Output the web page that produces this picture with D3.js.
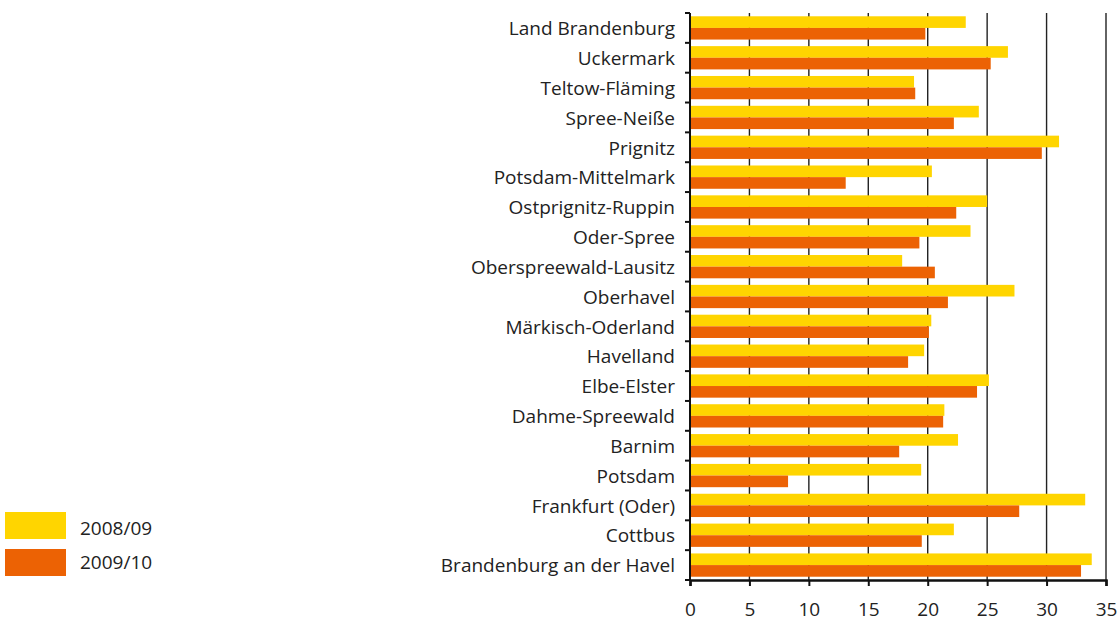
<!DOCTYPE html>
<html>
<head>
<meta charset="utf-8">
<script src="https://cdn.jsdelivr.net/npm/d3@7"></script>
<style>
  body { margin: 0; background: #fff; }
  svg text { font-family: "Open Sans", "Noto Sans", sans-serif; fill: #222; }
</style>
</head>
<body>
<svg width="1117" height="621"></svg>
<script>
var svg = d3.select('svg');

// categories top to bottom
var districts = ['Land Brandenburg', 'Uckermark', 'Teltow-Fläming', 'Spree-Neiße', 'Prignitz',
    'Potsdam-Mittelmark', 'Ostprignitz-Ruppin', 'Oder-Spree', 'Oberspreewald-Lausitz', 'Oberhavel',
    'Märkisch-Oderland', 'Havelland', 'Elbe-Elster', 'Dahme-Spreewald', 'Barnim',
    'Potsdam', 'Frankfurt (Oder)', 'Cottbus', 'Brandenburg an der Havel'];
var seriesNames = ['2008/09', '2009/10'];
var values0809 = [23.2, 26.75, 18.85, 24.3, 31.05, 20.35, 25.0, 23.6, 17.85, 27.3,
    20.3, 19.7, 25.15, 21.4, 22.55, 19.45, 33.25, 22.2, 33.8];
var values0910 = [19.8, 25.3, 18.95, 22.2, 29.6, 13.1, 22.4, 19.3, 20.6, 21.7,
    20.1, 18.35, 24.15, 21.3, 17.6, 8.25, 27.7, 19.5, 32.9];
var xTicks = [0, 5, 10, 15, 20, 25, 30, 35];

var colors = ['#ffd500', '#ec6204'];

var padding = {top: 13, bottom: 41, left: 690, right: 11};
var width = 1117 - padding.left - padding.right;
var height = 621 - padding.top - padding.bottom;

var xScale = d3.scaleLinear().domain([0, 35]).range([0, width]);
var yScale = d3.scaleBand().domain(districts).range([0, height]).paddingInner(0.22).paddingOuter(0.11);
var subScale = d3.scaleBand().domain(seriesNames).range([0, yScale.bandwidth()]);
var bandStep = height / districts.length;

var chartG = svg.append('g')
    .attr('transform', 'translate(' + [padding.left, padding.top] + ')');

// vertical gridlines
chartG.selectAll('.grid')
    .data(xTicks.slice(1))
    .enter()
    .append('line')
    .attr('class', 'grid')
    .attr('x1', function(d) { return xScale(d); })
    .attr('x2', function(d) { return xScale(d); })
    .attr('y1', 0)
    .attr('y2', height)
    .style('stroke', '#222')
    .style('stroke-width', 1.4);

var rows = [];
districts.forEach(function(name, i) {
    rows.push({name: name, series: seriesNames[0], value: values0809[i], c: colors[0]});
    rows.push({name: name, series: seriesNames[1], value: values0910[i], c: colors[1]});
});

chartG.selectAll('.bar')
    .data(rows)
    .enter()
    .append('rect')
    .attr('class', 'bar')
    .attr('x', 0)
    .attr('y', function(d) { return yScale(d.name) + subScale(d.series); })
    .attr('width', function(d) { return xScale(d.value); })
    .attr('height', subScale.bandwidth())
    .style('fill', function(d) { return d.c; });

// y axis: ticks on band boundaries
var yAxisG = chartG.append('g').attr('class', 'y axis');
yAxisG.append('line')
    .attr('x1', 0).attr('x2', 0).attr('y1', 0).attr('y2', height)
    .style('stroke', '#111').style('stroke-width', 2);
yAxisG.selectAll('.ytick')
    .data(d3.range(districts.length + 1))
    .enter()
    .append('line')
    .attr('class', 'ytick')
    .attr('x1', -5).attr('x2', 0)
    .attr('y1', function(d) { return d * bandStep; })
    .attr('y2', function(d) { return d * bandStep; })
    .style('stroke', '#111').style('stroke-width', 2);
yAxisG.selectAll('.ylabel')
    .data(districts)
    .enter()
    .append('text')
    .attr('class', 'ylabel')
    .attr('x', -15)
    .attr('y', function(d) { return yScale(d) + yScale.bandwidth() / 2; })
    .attr('dy', '0.38em')
    .attr('text-anchor', 'end')
    .style('font-size', '19px')
    .text(function(d) { return d; });

// x axis
var xAxisG = chartG.append('g')
    .attr('class', 'x axis')
    .attr('transform', 'translate(0,' + height + ')')
    .call(d3.axisBottom(xScale).tickValues(xTicks).tickSize(6).tickPadding(17));
xAxisG.select('.domain').style('stroke', '#111').style('stroke-width', 2.5);
xAxisG.selectAll('.tick line').style('stroke', '#111').style('stroke-width', 2);
xAxisG.selectAll('.tick text')
    .style('font-size', '19px')
    .style('font-family', '"Open Sans", "Noto Sans", sans-serif')
    .style('fill', '#222');

// legend
var legend = svg.append('g').attr('class', 'legend');
seriesNames.forEach(function(s, i) {
    legend.append('rect')
        .attr('x', 5).attr('y', 512 + i * 37)
        .attr('width', 61).attr('height', 27)
        .style('fill', colors[i]);
    legend.append('text')
        .attr('x', 80).attr('y', 528 + i * 34)
        .attr('dy', '0.35em')
        .style('font-size', '19px')
        .text(s);
});
</script>
</body>
</html>
